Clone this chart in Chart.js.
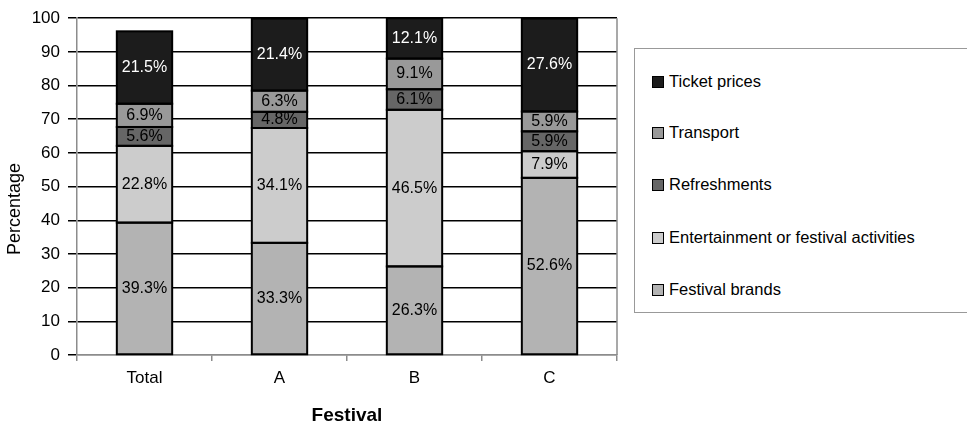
<!DOCTYPE html>
<html>
<head>
<meta charset="utf-8">
<script src="https://cdn.jsdelivr.net/npm/chart.js@4"></script>
<style>
  html, body { margin: 0; padding: 0; background: #fff; overflow: hidden; }
  #wrap { position: relative; width: 967px; height: 426px; }
  #legend {
    position: absolute; left: 634px; top: 48px; width: 345px; height: 265px;
    border: 1px solid #999; box-sizing: border-box; background: #fff;
    font-family: "Liberation Sans", Arial, sans-serif; font-size: 16.5px; color: #000;
  }
  .item { position: absolute; left: 17px; height: 20px; line-height: 20px; white-space: nowrap; }
  .sw { display: inline-block; width: 12px; height: 12px; border: 1.5px solid #000; box-sizing: border-box; vertical-align: -1px; margin-right: 5px; }
</style>
</head>
<body>
<div id="wrap">
  <canvas id="chart"></canvas>
  <div id="legend"></div>
</div>
<script>
// Categories and shares (%) per spending category
const festivals = ['Total', 'A', 'B', 'C'];
const festivalBrands = [39.3, 33.3, 26.3, 52.6];
const entertainment = [22.8, 34.1, 46.5, 7.9];
const refreshments = [5.6, 4.8, 6.1, 5.9];
const transport = [6.9, 6.3, 9.1, 5.9];
const ticketPrices = [21.5, 21.4, 12.1, 27.6];
const yTickValues = [0, 10, 20, 30, 40, 50, 60, 70, 80, 90, 100];

const FONT = '"Liberation Sans", Arial, sans-serif';

// Stacked bottom to top
const series = [
  { label: 'Festival brands', data: festivalBrands, color: '#b3b3b3', text: '#000' },
  { label: 'Entertainment or festival activities', data: entertainment, color: '#cccccc', text: '#000' },
  { label: 'Refreshments', data: refreshments, color: '#666666', text: '#000' },
  { label: 'Transport', data: transport, color: '#999999', text: '#000' },
  { label: 'Ticket prices', data: ticketPrices, color: '#1c1c1c', text: '#fff' }
];

// Segment outlines (one shared 2px line between stacked segments) and value labels
const segmentLabels = {
  id: 'segmentLabels',
  afterDatasetsDraw(chart) {
    const ctx = chart.ctx;
    const area = chart.chartArea;
    ctx.save();
    ctx.strokeStyle = '#000';
    ctx.lineWidth = 2;
    chart.data.datasets.forEach((ds, di) => {
      chart.getDatasetMeta(di).data.forEach(el => {
        const p = el.getProps(['x', 'y', 'base', 'width'], true);
        const top = Math.max(p.y, area.top);
        ctx.strokeRect(p.x - p.width / 2, top, p.width, p.base - top);
      });
    });
    ctx.font = '16px ' + FONT;
    ctx.textAlign = 'center';
    ctx.textBaseline = 'middle';
    chart.data.datasets.forEach((ds, di) => {
      chart.getDatasetMeta(di).data.forEach((el, i) => {
        const p = el.getProps(['x', 'y', 'base'], true);
        const top = Math.max(p.y, area.top);
        ctx.fillStyle = ds.textColor;
        ctx.fillText(ds.data[i].toFixed(1) + '%', p.x, (top + p.base) / 2);
      });
    });
    ctx.restore();
  }
};

// Right edge of the plot area and the rotated y-axis title
const frame = {
  id: 'frame',
  beforeDatasetsDraw(chart) {
    const { ctx, chartArea } = chart;
    ctx.save();
    ctx.strokeStyle = '#8c8c8c';
    ctx.lineWidth = 1.5;
    ctx.beginPath();
    ctx.moveTo(chartArea.right, chartArea.top);
    ctx.lineTo(chartArea.right, chartArea.bottom);
    ctx.stroke();
    ctx.restore();
  },
  afterDraw(chart) {
    const ctx = chart.ctx;
    ctx.save();
    ctx.translate(15, 209);
    ctx.rotate(-Math.PI / 2);
    ctx.font = '18px ' + FONT;
    ctx.fillStyle = '#000';
    ctx.textAlign = 'center';
    ctx.textBaseline = 'middle';
    ctx.fillText('Percentage', 0, 0);
    ctx.restore();
  }
};

new Chart(document.getElementById('chart'), {
  type: 'bar',
  data: {
    labels: festivals,
    datasets: series.map(s => ({
      label: s.label,
      data: s.data,
      backgroundColor: s.color,
      borderWidth: 0,
      inflateAmount: 0,
      textColor: s.text,
      barPercentage: 0.41,
      categoryPercentage: 1
    }))
  },
  options: {
    responsive: true,
    maintainAspectRatio: false,
    animation: false,
    layout: { padding: { top: 16, right: 350, left: 0, bottom: 0 } },
    plugins: { legend: { display: false }, tooltip: { enabled: false } },
    scales: {
      x: {
        stacked: true,
        afterFit(scale) { scale.height = 71; },
        grid: { offset: true, drawOnChartArea: false, drawTicks: true, tickLength: 6, tickColor: '#8c8c8c', lineWidth: 1.5 },
        border: { color: '#8c8c8c', width: 1.5 },
        ticks: { color: '#000', font: { family: FONT, size: 17 }, padding: 7 },
        title: { display: true, text: 'Festival', color: '#000', font: { family: FONT, size: 19, weight: 'bold', lineHeight: 1 }, padding: { top: 0, bottom: 1 } }
      },
      y: {
        stacked: true,
        min: 0,
        max: 100,
        afterFit(scale) { scale.width = 77; },
        afterBuildTicks(scale) { scale.ticks = yTickValues.map(v => ({ value: v })); },
        grid: {
          color: c => (c.tick && c.tick.value === 0) ? '#8c8c8c' : '#000',
          tickColor: '#000',
          lineWidth: 1.5,
          tickLength: 9
        },
        border: { color: '#8c8c8c', width: 1.5 },
        ticks: { color: '#000', font: { family: FONT, size: 17 }, padding: 8 }
      }
    }
  },
  plugins: [segmentLabels, frame]
});

// Legend, listed top of stack first
const legend = document.getElementById('legend');
const legendTops = [71, 122, 174, 227, 279];
series.slice().reverse().forEach((s, i) => {
  const item = document.createElement('div');
  item.className = 'item';
  item.style.top = (legendTops[i] - 48 - 1) + 'px';
  const sw = document.createElement('span');
  sw.className = 'sw';
  sw.style.background = s.color;
  item.appendChild(sw);
  item.appendChild(document.createTextNode(s.label));
  legend.appendChild(item);
});
</script>
</body>
</html>
